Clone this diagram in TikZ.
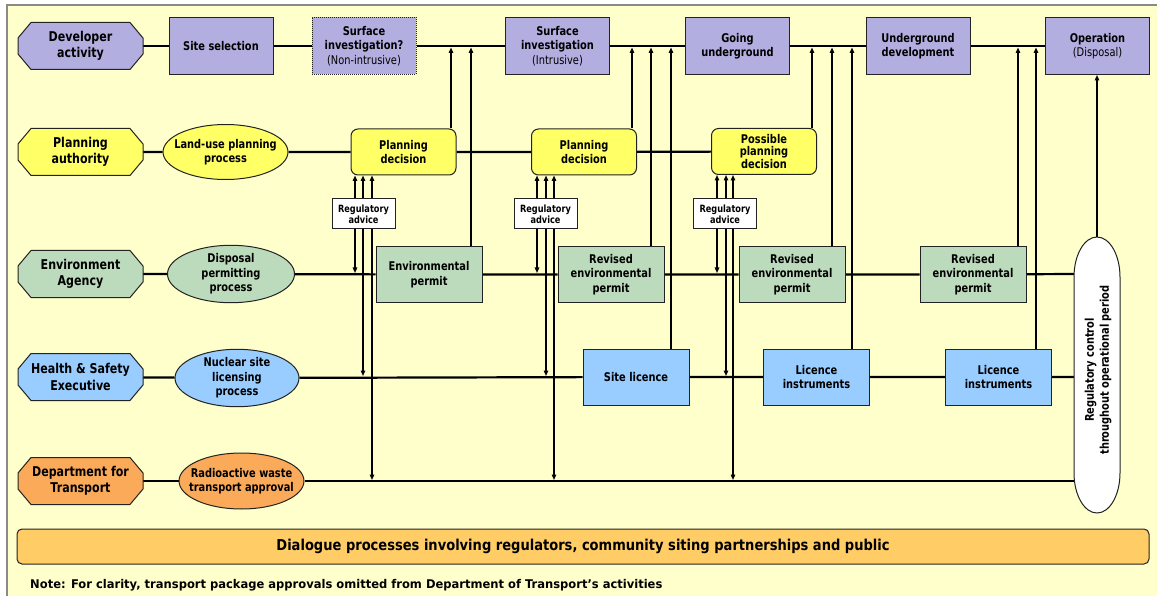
\documentclass[tikz,border=0pt]{standalone}
\usepackage{fontspec}
\setmainfont{DejaVu Sans}[FakeStretch=0.82]
\newfontfamily\notefont{DejaVu Sans}[FakeStretch=0.96]
\newfontfamily\dlgfont{DejaVu Sans}[FakeStretch=0.87]
\usetikzlibrary{arrows.meta,shapes.geometric}
\pgfdeclarelayer{back}
\pgfdeclarelayer{lines}
\pgfsetlayers{back,lines,main}
\definecolor{bgy}{HTML}{FFFFCC}
\definecolor{devc}{HTML}{B3AEE0}
\definecolor{planc}{HTML}{FFFF66}
\definecolor{envc}{HTML}{BCDABC}
\definecolor{hsec}{HTML}{99CCFF}
\definecolor{dftc}{HTML}{FBAA5A}
\definecolor{dlgc}{HTML}{FFCC66}
\definecolor{framec}{HTML}{8A8A8A}
\definecolor{edgec}{HTML}{222222}
\newcommand\octshape[3]{%
  \draw[edgec, line width=1pt, fill=#3] ({#1-49.5},{#2-23.5}) -- ({#1+49.5},{#2-23.5}) -- ({#1+62.5},{#2-8}) -- ({#1+62.5},{#2+8}) -- ({#1+49.5},{#2+23.5}) -- ({#1-49.5},{#2+23.5}) -- ({#1-62.5},{#2+8}) -- ({#1-62.5},{#2-8}) -- cycle;}
\tikzset{
  octnode/.style={minimum width=125pt, minimum height=47pt, inner sep=0pt, align=center, font=\fontsize{13.5}{16.5}\selectfont\bfseries},
  box/.style={draw=edgec, line width=1pt, minimum width=104pt, minimum height=57pt, inner sep=1pt, align=center, font=\fontsize{12}{14.5}\selectfont\bfseries},
  devbox/.style={box, fill=devc},
  envbox/.style={box, fill=envc, minimum width=106pt, minimum height=55pt},
  hsebox/.style={box, fill=hsec, minimum width=106pt, minimum height=56pt},
  pdbox/.style={box, fill=planc, rounded corners=7pt, minimum width=105pt, minimum height=46pt},
  proc/.style={ellipse, draw=edgec, line width=1pt, minimum width=125pt, minimum height=55pt, inner xsep=-20pt, inner ysep=0pt, align=center, font=\fontsize{12}{14.5}\selectfont\bfseries},
  advbox/.style={draw=edgec, line width=1pt, fill=white, minimum width=63pt, minimum height=30pt, inner sep=0pt, align=center, font=\fontsize{10}{9.5}\selectfont\bfseries},
  hline/.style={line width=2.2pt, black},
  vline/.style={line width=1.3pt, black},
  tip/.tip={Triangle[length=5.5pt,width=4.5pt]},
  vup/.style={vline, -tip},
  vboth/.style={vline, tip-tip},
}
\begin{document}
\begin{tikzpicture}[x=1pt, y=-1pt]
\useasboundingbox (0,0) rectangle (1157,596);
\begin{pgfonlayer}{back}
  \fill[bgy] (7,5) rectangle (1157,596);
  \draw[framec, line width=1.3pt] (7,596) -- (7,5) -- (1157,5);
\end{pgfonlayer}

% row labels
\octshape{80.5}{46}{devc}
\node[octnode] (devoct) at (80.5,46) {Developer\\activity};
\octshape{80.5}{152}{planc}
\node[octnode] (planoct) at (80.5,152) {Planning\\authority};
\octshape{80.5}{274}{envc}
\node[octnode] (envoct) at (80.5,274) {Environment\\Agency};
\octshape{80.5}{377}{hsec}
\node[octnode] (hseoct) at (80.5,377) {Health \& Safety\\Executive};
\octshape{80.5}{481}{dftc}
\node[octnode] (dftoct) at (80.5,481) {Department for\\Transport};

% developer row
\node[devbox] (sitesel) at (221,46) {Site selection};
\node[devbox, densely dotted] (surf1) at (364,46) {Surface\\investigation?\\{\mdseries(Non-intrusive)}};
\node[devbox] (surf2) at (557.5,46) {Surface\\investigation\\{\mdseries(Intrusive)}};
\node[devbox] (going) at (737.5,46) {Going\\underground};
\node[devbox] (ugdev) at (918,46) {Underground\\development};
\node[devbox] (oper) at (1097.5,46) {Operation\\{\mdseries(Disposal)}};

% planning row
\node[proc, fill=planc] (landuse) at (225.5,152) {Land-use planning\\process};
\node[pdbox] (pd1) at (403.5,152) {Planning\\decision};
\node[pdbox] (pd2) at (584,152) {Planning\\decision};
\node[pdbox, font=\fontsize{12}{12.5}\selectfont\bfseries] (pd3) at (764,151.5) {Possible\\planning\\decision};

% environment row
\node[proc, fill=envc, minimum width=127pt, minimum height=53pt] (disposal) at (231,274) {Disposal\\permitting\\process};
\node[envbox] (envp) at (429,274.5) {Environmental\\permit};
\node[envbox] (rep1) at (611,274.5) {Revised\\environmental\\permit};
\node[envbox] (rep2) at (792,274.5) {Revised\\environmental\\permit};
\node[envbox] (rep3) at (973,274.5) {Revised\\environmental\\permit};

% HSE row
\node[proc, fill=hsec, minimum width=124pt, minimum height=52pt] (nuclear) at (237,378) {Nuclear site\\licensing\\process};
\node[hsebox] (sitelic) at (636,377) {Site licence};
\node[hsebox] (li1) at (816.5,377) {Licence\\instruments};
\node[hsebox] (li2) at (998.5,377) {Licence\\instruments};

% DfT row
\node[proc, fill=dftc, minimum height=56pt] (radio) at (241.5,481) {Radioactive waste\\transport approval};

% regulatory advice
\node[advbox] (adv1) at (363.5,214) {Regulatory\\advice};
\node[advbox] (adv2) at (545.5,214) {Regulatory\\advice};
\node[advbox] (adv3) at (725,214) {Regulatory\\advice};

% capsule
\draw[edgec, line width=1pt, fill=white] (1074,277) arc[start angle=180, end angle=0, x radius=23pt, y radius=40pt] -- (1120,473) arc[start angle=0, end angle=-180, x radius=23pt, y radius=40pt] -- cycle;
\node[rotate=90, align=center, font=\fontsize{12}{15}\selectfont\bfseries] (regctl) at (1098,370) {Regulatory control\\throughout operational period};
\coordinate (ctop) at (1097,237);
\coordinate (cenv) at (1074,274);
\coordinate (chse) at (1074,377);
\coordinate (cdft) at (1074,481);

% dialogue + note
\node[draw=edgec, line width=1pt, fill=dlgc, rounded corners=5pt, minimum width=1132pt, minimum height=35pt, inner sep=0pt, font=\dlgfont\fontsize{15}{17}\selectfont\bfseries] (dlg) at (583,546.5) {Dialogue processes involving regulators, community siting partnerships and public};
\node[anchor=west, inner sep=0pt, font=\notefont\fontsize{12}{14}\selectfont\bfseries] (note) at (30,585) {Note: For clarity, transport package approvals omitted from Department of Transport’s activities};

% arrow tip coordinates on the developer line
\coordinate (u1) at (451,47.5);
\coordinate (u2) at (471,47.5);
\coordinate (u3) at (632,47.5);
\coordinate (u4) at (651,47.5);
\coordinate (u5) at (671,47.5);
\coordinate (u6) at (812,47.5);
\coordinate (u7) at (832,47.5);
\coordinate (u8) at (852,47.5);
\coordinate (u9) at (1018,47.5);
\coordinate (u10) at (1036,47.5);
% down-arrow tips
\coordinate (a1e) at (355,273);
\coordinate (a1h) at (363,376);
\coordinate (a1d) at (372,480);
\coordinate (a2e) at (537,273);
\coordinate (a2h) at (546,376);
\coordinate (a2d) at (554,480);
\coordinate (a3e) at (717,273);
\coordinate (a3h) at (726,376);
\coordinate (a3d) at (733,480);

\begin{pgfonlayer}{lines}
  \draw[hline] (devoct) -- (sitesel) -- (surf1) -- (surf2) -- (going) -- (ugdev) -- (oper);
  \draw[hline] (planoct) -- (landuse) -- (pd1) -- (pd2) -- (pd3);
  \draw[hline] (envoct) -- (disposal) -- (envp) -- (rep1) -- (rep2) -- (rep3) -- (cenv);
  \draw[hline] (hseoct) -- (nuclear) -- (sitelic) -- (li1) -- (li2) -- (chse);
  \draw[hline] (dftoct) -- (radio) -- (cdft);

  \draw[vup] (pd1.north -| u1) -- (u1);
  \draw[vup] (envp.north -| u2) -- (u2);
  \draw[vup] (pd2.north -| u3) -- (u3);
  \draw[vup] (rep1.north -| u4) -- (u4);
  \draw[vup] (sitelic.north -| u5) -- (u5);
  \draw[vup] (pd3.north -| u6) -- (u6);
  \draw[vup] (rep2.north -| u7) -- (u7);
  \draw[vup] (li1.north -| u8) -- (u8);
  \draw[vup] (rep3.north -| u9) -- (u9);
  \draw[vup] (li2.north -| u10) -- (u10);
  \draw[vup] (ctop) -- (oper.south -| ctop);

  \draw[vboth] (pd1.south -| a1e) -- (a1e);
  \draw[vboth] (pd1.south -| a1h) -- (a1h);
  \draw[vboth] (pd1.south -| a1d) -- (a1d);
  \draw[vboth] (pd2.south -| a2e) -- (a2e);
  \draw[vboth] (pd2.south -| a2h) -- (a2h);
  \draw[vboth] (pd2.south -| a2d) -- (a2d);
  \draw[vboth] (pd3.south -| a3e) -- (a3e);
  \draw[vboth] (pd3.south -| a3h) -- (a3h);
  \draw[vboth] (pd3.south -| a3d) -- (a3d);
\end{pgfonlayer}
\end{tikzpicture}
\end{document}
